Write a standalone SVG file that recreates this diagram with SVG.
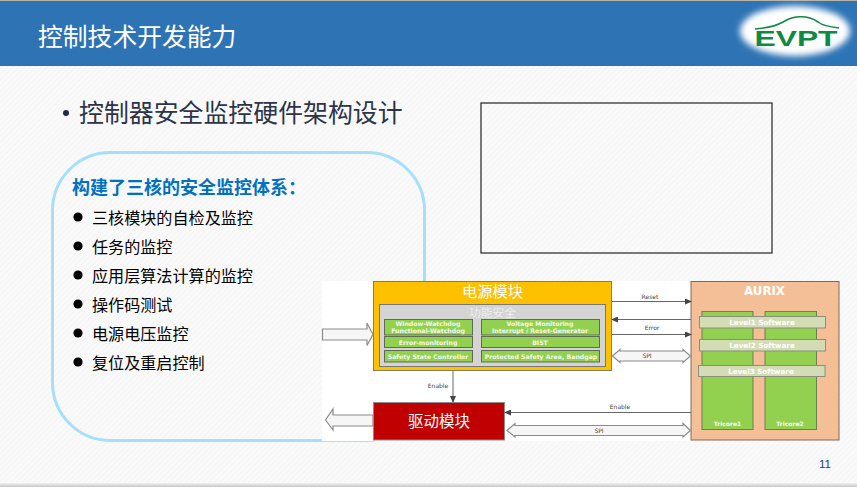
<svg xmlns="http://www.w3.org/2000/svg" width="857" height="487" viewBox="0 0 857 487">
<style>
text{font-family:"Noto Sans CJK SC","Liberation Sans",sans-serif}
.lat{font-family:"DejaVu Sans","Liberation Sans",sans-serif;font-weight:700;text-anchor:middle}
.ser{font-family:"Noto Sans CJK SC",serif;fill:#fff;text-anchor:middle}
.item{font-size:16.1px;fill:#000}
.dot{fill:#000}
.gb{fill:#92d050;stroke:#5f6b55;stroke-width:1}
.gt{font-size:6.2px;fill:#f4f8ec}
.core{fill:#92d050;stroke:#6c7f55;stroke-width:1}
.lvl{fill:#d3dcb5;stroke:#8a8f7d;stroke-width:1}
.lt{font-size:7.2px;fill:#fff}
.ct{font-size:6px;fill:#fff}
.ln{stroke:#666;stroke-width:1;fill:none}
.lbl{font-family:"DejaVu Sans","Liberation Sans",sans-serif;font-size:6px;fill:#444;text-anchor:middle}
.blk{fill:#f6f6f6;stroke:#8c8c8c;stroke-width:1.2}
</style>
<defs>
<pattern id="hatch" width="4" height="4" patternUnits="userSpaceOnUse" patternTransform="rotate(-45)">
<rect width="4" height="4" fill="#fafafa"/><rect width="4" height="1.4" fill="#f5f5f5"/>
</pattern>
<filter id="soft" x="-20%" y="-30%" width="140%" height="160%"><feGaussianBlur stdDeviation="3"/></filter>
<linearGradient id="foot" x1="0" y1="0" x2="0" y2="1"><stop offset="0" stop-color="#f0f0f0"/><stop offset="1" stop-color="#c8c8c8"/></linearGradient>
<marker id="ah" markerWidth="7" markerHeight="6" refX="6" refY="3" orient="auto" markerUnits="userSpaceOnUse"><path d="M0 0L7 3L0 6Z" fill="#444"/></marker>
</defs>

<g id="background">
<rect width="857" height="487" fill="url(#hatch)"/>
<rect y="483" width="857" height="4" fill="url(#foot)"/>
<rect width="857" height="1" fill="#b9b4a8"/>
</g>

<g id="header">
<rect y="1" width="857" height="65" fill="#2e74b5"/>
<text x="38" y="46" font-size="24.8" fill="#fff">控制技术开发能力</text>
</g>

<g id="logo">
<ellipse cx="795" cy="31" rx="55" ry="25" fill="#fff" filter="url(#soft)"/>
<path d="M755 29C768 28 776 26 783 22C794 15 808 15 818 22C823 26 830 27 839 28" fill="none" stroke="#0e8a45" stroke-width="1.6"/>
<text x="796" y="45.500" font-size="22" text-anchor="middle" fill="#0e8a45" textLength="83" lengthAdjust="spacingAndGlyphs" style="font-family:'Liberation Sans',sans-serif;font-weight:700">EVPT</text>
</g>

<g id="subtitle">
<circle cx="66" cy="113" r="3" fill="#1b2a4a"/>
<text x="79" y="122" font-size="24.9" fill="#2d3447">控制器安全监控硬件架构设计</text>
</g>

<g id="frame">
<rect x="481" y="103" width="291" height="150" fill="none" stroke="#333" stroke-width="1.3"/>
</g>

<g id="callout">
<rect x="52.500" y="152.500" width="372" height="288" rx="58" ry="58" fill="none" stroke="#a5dffa" stroke-width="3"/>
<text x="72" y="194" font-size="18" font-weight="700" fill="#0070c0">构建了三核的安全监控体系：</text>
<circle class="dot" cx="78" cy="217" r="4.600"/><text class="item" x="92" y="224">三核模块的自检及监控</text>
<circle class="dot" cx="78" cy="246" r="4.600"/><text class="item" x="92" y="253">任务的监控</text>
<circle class="dot" cx="78" cy="275" r="4.600"/><text class="item" x="92" y="282">应用层算法计算的监控</text>
<circle class="dot" cx="78" cy="304" r="4.600"/><text class="item" x="92" y="311">操作码测试</text>
<circle class="dot" cx="78" cy="333" r="4.600"/><text class="item" x="92" y="340">电源电压监控</text>
<circle class="dot" cx="78" cy="362" r="4.600"/><text class="item" x="92" y="369">复位及重启控制</text>
</g>

<rect id="panel" x="322" y="281" width="369" height="160" fill="#fff"/>

<g id="power-module">
<rect x="373.500" y="281.500" width="238" height="89" fill="#ffc000" stroke="#7f7f5a" stroke-width="1"/>
<text class="ser" x="492.500" y="297" font-size="15.300">电源模块</text>
<rect x="379.500" y="304.500" width="226" height="62" fill="#d4d4d4" stroke="#777" stroke-width="1"/>
<text class="ser" x="492.500" y="317" font-size="11.800" style="fill:#eee">功能安全</text>
<g id="watchdog"><rect class="gb" x="384.500" y="319.500" width="88" height="15.500"/><text class="lat gt" x="428" y="326">Window-Watchdog</text><text class="lat gt" x="428" y="333">Functional-Watchdog</text></g>
<g id="voltage"><rect class="gb" x="481.500" y="319.500" width="118" height="15.500"/><text class="lat gt" x="540" y="326">Voltage Monitoring</text><text class="lat gt" x="540" y="333">Interrupt / Reset-Generator</text></g>
<g id="error-monitoring"><rect class="gb" x="384.500" y="336.500" width="88" height="11"/><text class="lat gt" x="428" y="344.500">Error-monitoring</text></g>
<g id="bist"><rect class="gb" x="481.500" y="336.500" width="118" height="11"/><text class="lat gt" x="540" y="344.500">BIST</text></g>
<g id="safety-state"><rect class="gb" x="384.500" y="350.500" width="88" height="11.500"/><text class="lat gt" x="428" y="358.500">Safety State Controller</text></g>
<g id="protected"><rect class="gb" x="481.500" y="350.500" width="118" height="11.500"/><text class="lat gt" x="541" y="358.500">Protected Safety Area, Bandgap</text></g>
</g>

<g id="driver-module">
<rect x="373.500" y="402.500" width="131" height="37.500" fill="#c00000" stroke="#8c8c8c" stroke-width="1"/>
<text class="ser" x="439" y="426.500" font-size="15.500">驱动模块</text>
</g>

<g id="aurix">
<rect x="691" y="281.500" width="148" height="158.500" fill="#f4bf96" stroke="#7d6a5a" stroke-width="1"/>
<text class="lat" x="764.500" y="295" font-size="11.800" fill="#fff">AURIX</text>
<g id="tricore1"><rect class="core" x="702" y="311.500" width="51" height="118"/><text class="lat ct" x="727.500" y="425.500">Tricore1</text></g>
<g id="tricore2"><rect class="core" x="765" y="311.500" width="51.500" height="118"/><text class="lat ct" x="790" y="425.500">Tricore2</text></g>
<g id="level1"><rect class="lvl" x="699.500" y="316.500" width="126" height="11.500"/><text class="lat lt" x="762" y="325">Level1 Software</text></g>
<g id="level2"><rect class="lvl" x="699.500" y="339.500" width="126" height="11.500"/><text class="lat lt" x="762" y="348">Level2  Software</text></g>
<g id="level3"><rect class="lvl" x="698.500" y="365.500" width="126.500" height="11"/><text class="lat lt" x="761" y="373.500">Level3  Software</text></g>
</g>

<g id="connectors">
<line class="ln" x1="612" y1="301.500" x2="691" y2="301.500" marker-end="url(#ah)"/>
<text class="lbl" x="650" y="299">Reset</text>
<line class="ln" x1="691" y1="319.500" x2="612" y2="319.500" marker-end="url(#ah)"/>
<line class="ln" x1="612" y1="334.500" x2="691" y2="334.500" marker-end="url(#ah)"/>
<text class="lbl" x="652" y="330">Error</text>
<path class="blk" d="M612.500 356L620 349.500V351H683V349.500L690.500 356L683 362.500V361H620V362.500Z"/>
<text class="lbl" x="647" y="358">SPI</text>
<line class="ln" x1="453" y1="371" x2="453" y2="402" marker-end="url(#ah)"/>
<text class="lbl" x="438" y="388">Enable</text>
<line class="ln" x1="691" y1="412.500" x2="505" y2="412.500" marker-end="url(#ah)"/>
<text class="lbl" x="620" y="409">Enable</text>
<path class="blk" d="M507 430.500L515 423.500V425.500H683V423.500L690.500 430.500L683 437V435.500H515V437Z"/>
<text class="lbl" x="599" y="433">SPI</text>
<path class="blk" d="M322.500 329H367V323L373 334.500L367 345.500V340H322.500Z"/>
<path class="blk" d="M373 415H333V409L325.500 420L333 430V426H373Z"/>
</g>

<g id="page-number">
<text x="825" y="468" font-size="11.500" text-anchor="middle" fill="#1f3a7a" style="font-family:'Liberation Sans',sans-serif">11</text>
</g>
</svg>
